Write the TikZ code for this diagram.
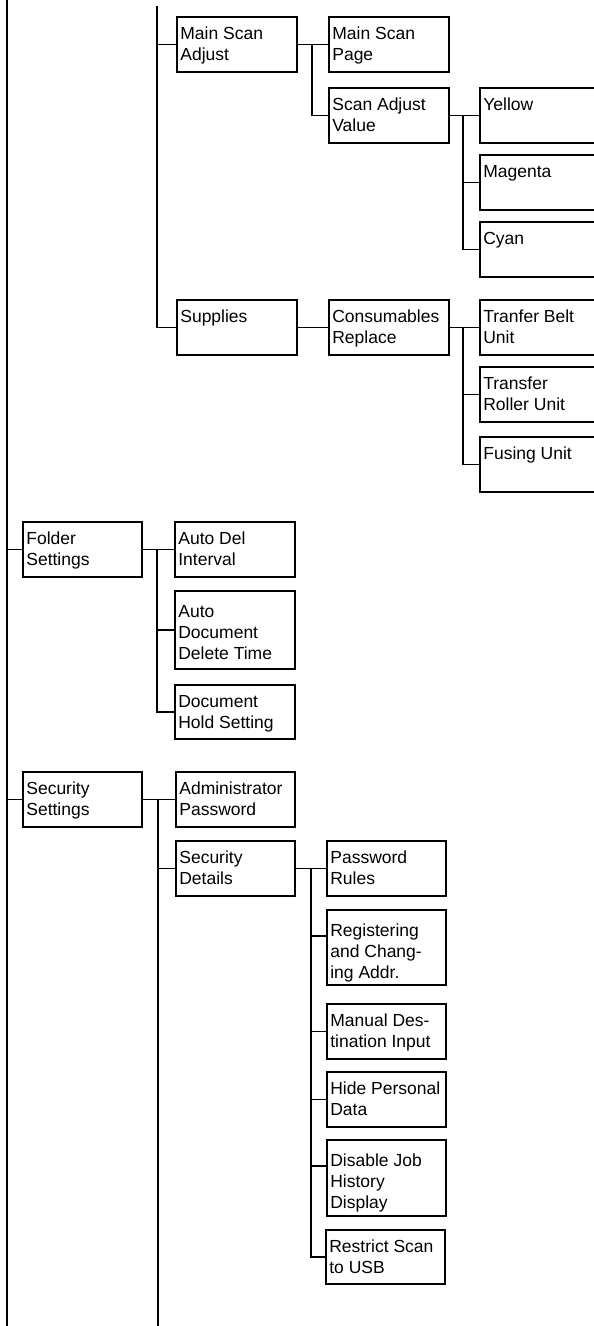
\documentclass[tikz,border=0pt]{standalone}
\usepackage{fontspec}
\setmainfont{Liberation Sans}
\tikzset{
  box/.style={draw, line width=1.7pt, anchor=north west, inner xsep=3.5pt, inner ysep=0pt,
    font=\fontsize{17.5}{20.7}\selectfont},
  ln/.style={line width=1.7pt}
}
\newcommand\mbx[7]{\node[box] (#1) at (#2+1,#3+1) {\parbox[t][\dimexpr#5pt-2pt\relax][t]{\dimexpr#4pt-9pt\relax}{\raggedright\rule{0pt}{#6pt}#7}};}
\begin{document}
\begin{tikzpicture}[x=1pt,y=-1pt]
\useasboundingbox (0,0) rectangle (594,1326);
\clip (0,0) rectangle (594,1326);
% boxes
\mbx{msa}{175}{15}{122}{57}{23}{Main Scan\\Adjust}
\mbx{sup}{175}{298}{122}{57}{23}{Supplies}
\mbx{msp}{327}{15}{122}{57}{23}{Main Scan\\Page}
\mbx{sav}{327}{86}{122}{57}{23}{Scan Adjust\\Value}
\mbx{cr}{327}{298}{122}{57}{23}{Consumables\\Replace}
\mbx{yel}{478}{86}{122}{57}{23}{Yellow}
\mbx{mag}{478}{153}{122}{57}{23}{Magenta}
\mbx{cya}{478}{220}{122}{57}{23}{Cyan}
\mbx{tbu}{478}{298}{122}{57}{23}{Tranfer Belt\\Unit}
\mbx{tru}{478}{365}{122}{57}{23}{Transfer\\Roller Unit}
\mbx{fu}{478}{435}{122}{57}{23}{Fusing Unit}
\mbx{fs}{21}{520}{121}{57}{23}{Folder\\Settings}
\mbx{adi}{173}{520}{122}{57}{23}{Auto Del\\Interval}
\mbx{add}{173}{589}{122}{80}{27}{Auto\\Document\\Delete Time}
\mbx{dhs}{173}{683}{122}{56}{23}{Document\\Hold Setting}
\mbx{ss}{21}{770}{121}{57}{23}{Security\\Settings}
\mbx{ap}{174}{770}{121}{57}{23}{Administrator\\Password}
\mbx{sd}{174}{839}{121}{57}{23}{Security\\Details}
\mbx{pr}{325}{839}{121}{57}{23}{Password\\Rules}
\mbx{reg}{325}{908}{121}{77}{27}{Registering\\and Chang-\\ing Addr.}
\mbx{mdi}{325}{1002}{121}{57}{23}{Manual Des-\\tination Input}
\mbx{hpd}{325}{1070}{121}{57}{23}{\mbox{Hide Personal}\\Data}
\mbx{djh}{325}{1138}{121}{78}{27}{Disable Job\\History\\Display}
\mbx{rsu}{324}{1228}{121}{56}{23}{Restrict Scan\\to USB}
% trunk coordinates
\coordinate (t0a) at (7,-5);
\coordinate (t0b) at (7,1335);
\coordinate (t1a) at (157,6);
\coordinate (j2) at (312,0);
\coordinate (j3) at (463,0);
\coordinate (j4) at (157,0);
\coordinate (t5b) at (158,1335);
\coordinate (j6) at (311,0);
\coordinate (regc) at ([yshift=-27pt]reg.north west);
\coordinate (djhc) at ([yshift=-27pt]djh.north west);
% connectors
\draw[ln] (t0a) -- (t0b);
\draw[ln] (fs.west) -- (fs.west -| t0a);
\draw[ln] (ss.west) -- (ss.west -| t0a);
\draw[ln] (t1a) |- (sup.west);
\draw[ln] (t1a |- msa.west) -- (msa.west);
\draw[ln] (msa.east) -- (msp.west);
\draw[ln] (msp.west -| j2) |- (sav.west);
\draw[ln] (sav.east) -- (yel.west);
\draw[ln] (yel.west -| j3) |- (cya.west);
\draw[ln] (mag.west -| j3) -- (mag.west);
\draw[ln] (sup.east) -- (cr.west);
\draw[ln] (cr.east) -- (tbu.west);
\draw[ln] (tbu.west -| j3) |- (fu.west);
\draw[ln] (tru.west -| j3) -- (tru.west);
\draw[ln] (fs.east) -- (adi.west);
\draw[ln] (adi.west -| j4) |- (dhs.west);
\draw[ln] (add.west -| j4) -- (add.west);
\draw[ln] (ss.east) -- (ap.west);
\draw[ln] (ap.west -| t5b) -- (t5b);
\draw[ln] (sd.west -| t5b) -- (sd.west);
\draw[ln] (sd.east) -- (pr.west);
\draw[ln] (pr.west -| j6) |- (rsu.west);
\draw[ln] (regc -| j6) -- (regc);
\draw[ln] (mdi.west -| j6) -- (mdi.west);
\draw[ln] (hpd.west -| j6) -- (hpd.west);
\draw[ln] (djhc -| j6) -- (djhc);
\end{tikzpicture}
\end{document}
